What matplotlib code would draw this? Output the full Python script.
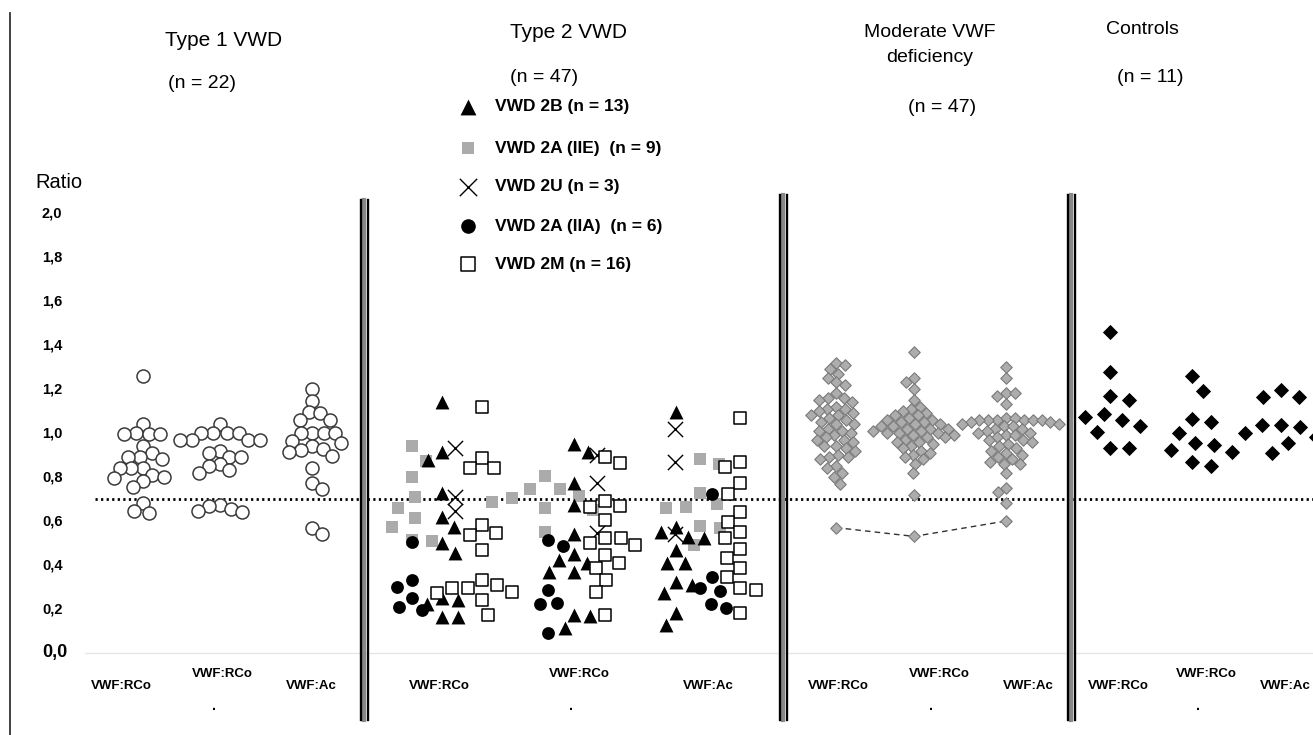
import numpy as np
import matplotlib
matplotlib.use("Agg")
import matplotlib.pyplot as plt

# ---- ratios ----
col_labels = ["VWF:RCo", "VWF:RCo", "VWF:Ac"]
group_titles = ["Type 1 VWD", "Type 2 VWD", "Moderate VWF\ndeficiency", "Controls"]
group_n = ["(n = 22)", "(n = 47)", "(n = 47)", "(n = 11)"]

type1_rco = [1.26, 1.04, 1.00, 0.995, 0.995, 0.995, 0.94, 0.91, 0.89, 0.89, 0.88,
             0.84, 0.84, 0.84, 0.81, 0.80, 0.795, 0.78, 0.755, 0.68, 0.646, 0.636]
type1_rco2 = [1.04, 1.00, 1.00, 1.00, 1.00, 0.97, 0.97, 0.97, 0.97, 0.92, 0.91,
              0.89, 0.89, 0.86, 0.85, 0.83, 0.82, 0.675, 0.67, 0.655, 0.645, 0.64]
type1_ac = [1.20, 1.145, 1.095, 1.09, 1.06, 1.06, 1.00, 1.00, 1.00, 1.00, 0.964,
            0.955, 0.94, 0.927, 0.923, 0.914, 0.895, 0.84, 0.773, 0.745, 0.568, 0.54]

# type 2 subtypes, one list per column (RCo, RCo., Ac)
vwd_2b = [[1.14, 0.914, 0.877, 0.727, 0.62, 0.573, 0.50, 0.455, 0.25, 0.24, 0.223, 0.164, 0.164],
          [0.95, 0.914, 0.773, 0.673, 0.54, 0.45, 0.423, 0.409, 0.368, 0.368, 0.173, 0.168, 0.114],
          [1.095, 0.573, 0.55, 0.527, 0.523, 0.468, 0.409, 0.409, 0.323, 0.309, 0.273, 0.182, 0.127]]
vwd_2a_iie = [[0.94, 0.873, 0.80, 0.71, 0.66, 0.614, 0.573, 0.514, 0.509],
              [0.805, 0.745, 0.745, 0.714, 0.705, 0.686, 0.66, 0.65, 0.55],
              [0.882, 0.859, 0.727, 0.677, 0.664, 0.659, 0.577, 0.568, 0.491]]
vwd_2u = [[0.93, 0.71, 0.645],
          [0.90, 0.773, 0.545],
          [1.018, 0.868, 0.541]]
vwd_2a_iia = [[0.505, 0.33, 0.30, 0.25, 0.21, 0.195],
              [0.514, 0.486, 0.286, 0.227, 0.223, 0.09],
              [0.723, 0.345, 0.295, 0.282, 0.223, 0.205]]
vwd_2m = [[1.12, 0.886, 0.84, 0.84, 0.582, 0.545, 0.536, 0.468, 0.332, 0.309, 0.295, 0.295,
           0.277, 0.273, 0.241, 0.173],
          [0.89, 0.864, 0.691, 0.668, 0.664, 0.605, 0.523, 0.523, 0.50, 0.491, 0.445, 0.409,
           0.386, 0.332, 0.277, 0.173],
          [1.068, 0.868, 0.845, 0.773, 0.723, 0.641, 0.595, 0.55, 0.523, 0.473, 0.432, 0.386,
           0.345, 0.295, 0.286, 0.182]]

moderate_rco = [1.32, 1.31, 1.29, 1.27, 1.25, 1.23, 1.22, 1.18, 1.16, 1.16,
                1.15, 1.14, 1.12, 1.11, 1.11, 1.10, 1.09, 1.08, 1.08, 1.07,
                1.06, 1.05, 1.04, 1.04, 1.02, 1.01, 1.01, 1.00, 0.99, 0.98,
                0.97, 0.97, 0.96, 0.94, 0.94, 0.93, 0.92, 0.90, 0.89, 0.89,
                0.88, 0.85, 0.84, 0.82, 0.80, 0.77, 0.57]
moderate_rco2 = [1.37, 1.25, 1.23, 1.20, 1.15, 1.12, 1.11, 1.10, 1.09, 1.08,
                 1.08, 1.07, 1.06, 1.06, 1.05, 1.05, 1.04, 1.04, 1.03, 1.03,
                 1.02, 1.02, 1.02, 1.01, 1.01, 1.00, 1.00, 1.00, 0.99, 0.99,
                 0.98, 0.98, 0.97, 0.96, 0.96, 0.95, 0.94, 0.93, 0.92, 0.91,
                 0.90, 0.89, 0.88, 0.86, 0.82, 0.72, 0.53]
moderate_ac = [1.30, 1.25, 1.18, 1.18, 1.17, 1.13, 1.07, 1.07, 1.06, 1.06,
               1.06, 1.06, 1.06, 1.06, 1.05, 1.05, 1.04, 1.04, 1.03, 1.03,
               1.02, 1.02, 1.01, 1.00, 1.00, 0.99, 0.99, 0.98, 0.97, 0.97,
               0.96, 0.95, 0.94, 0.93, 0.92, 0.91, 0.90, 0.89, 0.88, 0.87,
               0.86, 0.86, 0.82, 0.75, 0.73, 0.68, 0.60]

ctrl_rco = [1.46, 1.277, 1.168, 1.15, 1.086, 1.073, 1.059, 1.032, 1.005, 0.932, 0.932]
ctrl_rco2 = [1.26, 1.19, 1.064, 1.05, 1.0, 0.955, 0.945, 0.923, 0.914, 0.868, 0.85]
ctrl_ac = [1.195, 1.164, 1.164, 1.036, 1.036, 1.027, 1.0, 0.982, 0.968, 0.955, 0.909]

cutoff = 0.7
ticks = [0.0, 0.2, 0.4, 0.6, 0.8, 1.0, 1.2, 1.4, 1.6, 1.8, 2.0]

# ---- layout (pixel based, 1 x unit = 1 px) ----
W, H = 1313, 735
Y0 = 653     # pixel row of ratio 0
UNIT = 220   # pixels per ratio unit


def ypx(p):
    """pixel row -> ratio units, for placing text"""
    return (Y0 - p) / UNIT


def swarm(values, center, d):
    """simple beeswarm: x positions so markers of diameter d (px) don't overlap"""
    ys = np.asarray(values, dtype=float) * UNIT
    xs = np.zeros(len(ys))
    placed = []
    for i in np.argsort(-ys, kind="stable"):
        y = ys[i]
        near = [(px, py) for px, py in placed if abs(py - y) < d]
        cands = [0.0]
        for px, py in near:
            dx = np.sqrt(d * d - (py - y) ** 2)
            cands += [px + dx, px - dx]
        cands.sort(key=lambda c: (round(abs(c), 6), -c if len(placed) % 2 else c))
        for c in cands:
            if all((c - px) ** 2 + (y - py) ** 2 >= d * d - 1e-6 for px, py in near):
                break
        xs[i] = c
        placed.append((c, y))
    return center + xs


fig = plt.figure(figsize=(W / 100, H / 100), dpi=100)
ax = fig.add_axes([0, 0, 1, 1])
ax.set_xlim(0, W)
ax.set_ylim(ypx(H), ypx(0))
ax.axis("off")

font = ["Liberation Sans", "DejaVu Sans"]

# frame bits
ax.plot([10, 10], [ypx(13), ypx(H)], color="#333333", lw=1.3)
ax.plot([85, W], [0, 0], color="#e6e6e6", lw=1.0, zorder=0)
ax.plot([95, W], [cutoff, cutoff], color="black", lw=2.0,
        linestyle=(0, (0.8, 1.2)), zorder=1)

for cx, top in [(364, 200), (783, 195), (1071, 195)]:
    ax.plot([cx, cx], [ypx(top), ypx(720)], color="#888888", lw=3, zorder=4)
    for dx in (-3.5, 3.5):
        ax.plot([cx + dx, cx + dx], [ypx(top), ypx(720)], color="black", lw=1.7, zorder=5)

# y axis
ax.text(35, ypx(183), "Ratio", fontsize=14.5, family=font, va="center")
for t in ticks:
    ax.text(42, t, f"{t:.1f}".replace(".", ","), fontsize=13 if t == 0 else 10.5,
            fontweight="bold", family=font, va="center", ha="left")

# ---- type 1 ----
t1_style = dict(marker="o", s=88, facecolors="white", edgecolors="#3a3a3a",
                linewidths=1.1, zorder=3)
for vals, cx in zip([type1_rco, type1_rco2, type1_ac], [143, 220, 312]):
    ax.scatter(swarm(vals, cx, 11.5), vals, **t1_style)

# ---- type 2 ----  (values, sub-centres per column, swarm spacing, style, label)
t2_series = [
    (vwd_2a_iie, [412, 545, 700], 20, dict(marker="s", s=64, color="#ababab", linewidths=0),
     "VWD 2A (IIE)  (n = 9)"),
    (vwd_2a_iia, [412, 548, 712], 16, dict(marker="o", s=85, color="black", linewidths=0),
     "VWD 2A (IIA)  (n = 6)"),
    (vwd_2b, [442, 574, 676], 16, dict(marker="^", s=100, color="black", linewidths=0),
     "VWD 2B (n = 13)"),
    (vwd_2u, [455, 597, 675], 14, dict(marker="x", s=120, color="black", linewidths=1.0),
     "VWD 2U (n = 3)"),
    (vwd_2m, [482, 605, 740], 16, dict(marker="s", s=75, facecolors="white", edgecolors="black",
                                       linewidths=1.1), "VWD 2M (n = 16)"),
]
for cols, centers, d, style, _ in t2_series:
    for vals, cx in zip(cols, centers):
        ax.scatter(swarm(vals, cx, d), vals, zorder=3, **style)

# legend drawn by hand
legend_order = [2, 0, 3, 1, 4]
for k, row_y in zip(legend_order, [107, 148, 187, 226, 264]):
    style, label = t2_series[k][3], t2_series[k][4]
    st = dict(style)
    st["s"] = style["s"] * 1.3
    ax.scatter([468], [ypx(row_y)], zorder=3, **st)
    ax.text(495, ypx(row_y), label, fontsize=12.5, fontweight="bold", family=font, va="center")

# ---- moderate VWF deficiency ----
mod_style = dict(marker="D", s=34, facecolors="#adadad", edgecolors="#7a7a7a",
                 linewidths=0.8, zorder=3)
low_pts = []
for vals, cx in zip([moderate_rco, moderate_rco2, moderate_ac], [836, 914, 1006]):
    xs = swarm(vals, cx, 9)
    ax.scatter(xs, vals, **mod_style)
    i = int(np.argmin(vals))
    low_pts.append((xs[i], vals[i]))
ax.plot([p[0] for p in low_pts], [p[1] for p in low_pts], color="#333333",
        lw=1.0, linestyle=(0, (4, 3)), zorder=2)

# ---- controls ----
ctrl_style = dict(marker="D", s=60, color="black", linewidths=0, zorder=3)
for vals, cx in zip([ctrl_rco, ctrl_rco2, ctrl_ac], [1110, 1192, 1281]):
    ax.scatter(swarm(vals, cx, 19), vals, **ctrl_style)

# ---- column labels ----
for centers in [[121, 222, 311], [439, 579, 708], [838, 939, 1028], [1118, 1206, 1285]]:
    for j, (cx, lab) in enumerate(zip(centers, col_labels)):
        yy = 674 if j == 1 else 686
        ax.text(cx, ypx(yy), lab, fontsize=9.5, fontweight="bold", family=font,
                ha="center", va="center")
        if j == 1:
            ax.text(cx - 8, ypx(706), ".", fontsize=10, fontweight="bold", family=font,
                    ha="center", va="center")

# ---- group titles ----
ax.text(165, ypx(40), group_titles[0], fontsize=15, family=font, va="center")
ax.text(168, ypx(83), group_n[0], fontsize=14, family=font, va="center")
ax.text(510, ypx(33), group_titles[1], fontsize=15, family=font, va="center")
ax.text(510, ypx(77), group_n[1], fontsize=14, family=font, va="center")
ax.text(930, ypx(45), group_titles[2], fontsize=14, family=font, va="center",
        ha="center", linespacing=1.6)
ax.text(942, ypx(107), group_n[2], fontsize=14, family=font, va="center", ha="center")
ax.text(1142, ypx(30), group_titles[3], fontsize=14, family=font, va="center", ha="center")
ax.text(1150, ypx(78), group_n[3], fontsize=14, family=font, va="center", ha="center")

fig.savefig("out.png", dpi=100, facecolor="white")
